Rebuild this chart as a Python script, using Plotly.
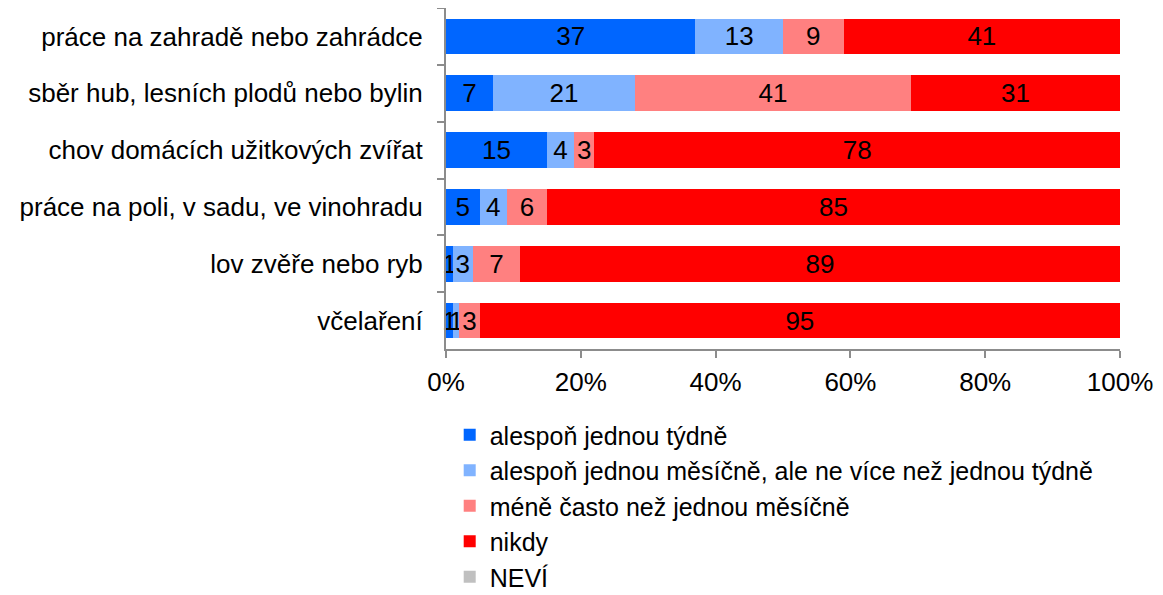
import plotly.graph_objects as go

categories = [
    "práce na zahradě nebo zahrádce",
    "sběr hub, lesních plodů nebo bylin",
    "chov domácích užitkových zvířat",
    "práce na poli, v sadu, ve vinohradu",
    "lov zvěře nebo ryb",
    "včelaření",
]
series_names = [
    "alespoň jednou týdně",
    "alespoň jednou měsíčně, ale ne více než jednou týdně",
    "méně často než jednou měsíčně",
    "nikdy",
    "NEVÍ",
]
weekly = [37, 7, 15, 5, 1, 1]
monthly = [13, 21, 4, 4, 3, 1]
less_often = [9, 41, 3, 6, 7, 3]
never = [41, 31, 78, 85, 89, 95]
dont_know = [0, 0, 0, 0, 0, 0]
x_tick_values = [0, 20, 40, 60, 80, 100]
x_tick_labels = ["0%", "20%", "40%", "60%", "80%", "100%"]
colors = ["#0066FF", "#80B3FF", "#FF8080", "#FF0000", "#C0C0C0"]

all_values = [weekly, monthly, less_often, never, dont_know]
FONT = "Liberation Sans, Arial, sans-serif"
FS = 26

fig = go.Figure()
for name, vals, col in zip(series_names, all_values, colors):
    fig.add_trace(go.Bar(
        y=categories, x=vals, name=name, orientation="h",
        marker=dict(color=col, line=dict(width=0)),
        text=[str(v) if v > 0 else "" for v in vals],
        textposition="inside", insidetextanchor="middle", textangle=0,
        constraintext="none", cliponaxis=False,
        textfont=dict(family=FONT, size=FS, color="black"),
        hoverinfo="skip",
    ))

axis_col = "#8c8c8c"
fig.update_layout(
    width=1163, height=595,
    barmode="stack", bargap=0.37,
    plot_bgcolor="white", paper_bgcolor="white",
    margin=dict(l=438, r=51, t=0, b=254, autoexpand=False),
    font=dict(family=FONT, size=FS, color="black"),
    legend=dict(
        orientation="v", x=0.0055, xanchor="left", y=-0.185, yanchor="top",
        traceorder="normal",
        font=dict(family=FONT, size=25, color="black"),
        itemclick=False, bgcolor="rgba(0,0,0,0)",
    ),
    xaxis=dict(
        range=[0, 100], tickvals=x_tick_values, ticktext=x_tick_labels,
        showgrid=False, zeroline=False, showline=True, linecolor=axis_col, linewidth=2,
        ticks="outside", ticklen=7, tickcolor=axis_col, tickwidth=2,
        ticklabelstandoff=2, automargin=False,
        tickfont=dict(family=FONT, size=FS, color="black"),
    ),
    yaxis=dict(
        autorange="reversed", showgrid=False, showline=True, linecolor=axis_col, linewidth=2,
        ticks="outside", ticklen=7, tickcolor=axis_col, tickwidth=2,
        tickson="boundaries", ticklabelstandoff=16, automargin=False,
        tickfont=dict(family=FONT, size=FS, color="black"),
    ),
)

fig.write_html("out.html")
